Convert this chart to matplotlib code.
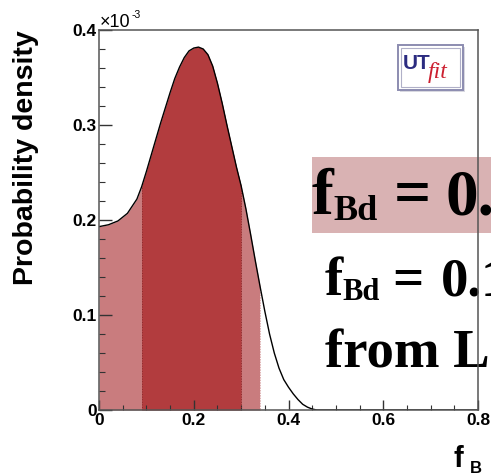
import matplotlib

matplotlib.use("Agg")
import matplotlib.pyplot as plt
import numpy as np
from matplotlib.patches import Rectangle
from matplotlib.ticker import FuncFormatter, MultipleLocator

# posterior of f_B (density in units of 1e-3)
f_b = [0.00, 0.02, 0.04, 0.06, 0.08, 0.09, 0.10, 0.11, 0.12, 0.13, 0.14, 0.15,
       0.16, 0.17, 0.18, 0.19, 0.20, 0.21, 0.22, 0.23, 0.24, 0.25, 0.26, 0.27,
       0.28, 0.29, 0.30, 0.31, 0.32, 0.33, 0.34, 0.35, 0.36, 0.37, 0.38, 0.39,
       0.40, 0.41, 0.42, 0.43, 0.44, 0.45, 0.46, 0.80]
density = [0.193, 0.195, 0.199, 0.207, 0.222, 0.235, 0.251, 0.268, 0.285, 0.302,
           0.318, 0.334, 0.349, 0.361, 0.371, 0.378, 0.381, 0.382, 0.380, 0.374,
           0.362, 0.344, 0.323, 0.300, 0.278, 0.256, 0.236, 0.212, 0.185, 0.157,
           0.130, 0.104, 0.080, 0.060, 0.044, 0.032, 0.024, 0.017, 0.011, 0.006,
           0.003, 0.001, 0.0, 0.0]
ci68 = (0.09, 0.30)
ci95 = (0.0, 0.34)

W, H = 491, 473


def px(x, y):
    return x / W, 1 - y / H


plt.rcParams.update({"font.family": "Liberation Sans"})

fig = plt.figure(figsize=(W / 100, H / 100), dpi=100)
ax = fig.add_axes([99 / W, 1 - 410 / H, (478 - 99) / W, 380 / H])
ax.patch.set_visible(False)

x = np.array(f_b)
y = np.array(density)
light, dark = "#c97c7e", "#b23c3e"
ax.fill_between(x, y, where=(x >= ci95[0]) & (x <= ci95[1]), color=light, lw=0)
ax.fill_between(x, y, where=(x >= ci68[0]) & (x <= ci68[1]), color=dark, lw=0)
for edge, col in [(ci68[0], "#8a2a2c"), (ci68[1], "#8a2a2c"), (ci95[1], "white")]:
    ax.plot([edge, edge], [0, np.interp(edge, x, y)], color=col, lw=0.7, ls=":")
ax.plot(x, y, color="black", lw=1.0)

ax.set_xlim(0, 0.8)
ax.set_ylim(0, 0.4)
ax.xaxis.set_major_locator(MultipleLocator(0.2))
ax.xaxis.set_minor_locator(MultipleLocator(0.05))
ax.yaxis.set_major_locator(MultipleLocator(0.1))
ax.yaxis.set_minor_locator(MultipleLocator(0.02))
fmt = FuncFormatter(lambda v, _: "0" if abs(v) < 1e-9 else f"{v:.1f}")
ax.xaxis.set_major_formatter(fmt)
ax.yaxis.set_major_formatter(fmt)
ax.tick_params(which="both", direction="in", top=False, right=False, color="#333333")
ax.tick_params(axis="x", which="major", length=7.2, width=1, pad=2)
ax.tick_params(axis="x", which="minor", length=3.6, width=0.8)
ax.tick_params(axis="y", which="major", length=9.4, width=1, pad=1.5)
ax.tick_params(axis="y", which="minor", length=4.3, width=0.8)
for lab in ax.get_xticklabels() + ax.get_yticklabels():
    lab.set_fontsize(12.5)
    lab.set_fontweight("bold")
for sp in ax.spines.values():
    sp.set_color("#555555")
    sp.set_linewidth(1.1)

# axis titles and exponent
fig.text(*px(26, 30), "Probability density", rotation=90, ha="center", va="top",
         fontsize=20.5, fontweight="bold")
fig.text(*px(453, 467), "f", ha="left", va="baseline", fontsize=21, fontweight="bold")
fig.text(*px(470, 473), "B", ha="left", va="baseline", fontsize=12, fontweight="bold")
fig.text(*px(100, 27), "\u00d710", ha="left", va="baseline", fontsize=13)
fig.text(*px(132, 18), "-3", ha="left", va="baseline", fontsize=7.5)

# UTfit logo
fig.patches.append(Rectangle(px(400, 92), 65 / W, 45 / H, transform=fig.transFigure,
                             facecolor="#d8d8e0", edgecolor="none", zorder=3))
fig.patches.append(Rectangle(px(398, 90), 65 / W, 45 / H, transform=fig.transFigure,
                             facecolor="white", edgecolor="#8c8cb0", lw=1.4, zorder=3))
fig.patches.append(Rectangle(px(401, 87), 59 / W, 39 / H, transform=fig.transFigure,
                             facecolor="none", edgecolor="#b0b0c8", lw=0.8, zorder=3))
fig.text(*px(403, 69), "UT", ha="left", va="baseline", fontsize=15, fontweight="bold",
         color="#2b2b80", zorder=4)
fig.text(*px(428, 78), "fit", ha="left", va="baseline", fontsize=17, style="italic",
         family="Liberation Serif", color="#cc2030", zorder=4)

# result text, drawn beneath the frame
serif = dict(family="Liberation Serif", fontweight="bold", color="black",
             ha="left", va="baseline", zorder=-1)
fig.patches.append(Rectangle(px(312, 233), (W - 312 + 5) / W, 76 / H,
                             transform=fig.transFigure, facecolor="#d9b2b3",
                             edgecolor="none", zorder=-2))
fig.text(*px(312, 214), "f", fontsize=47, **serif)
fig.text(*px(333, 220), "Bd", fontsize=26, **serif)
fig.text(*px(394, 214), "=", fontsize=47, **serif)
fig.text(*px(446, 214), "0.1", fontsize=47, **serif)

fig.text(*px(325, 295), "f", fontsize=39.4, **serif)
fig.text(*px(342, 300), "Bd", fontsize=22, **serif)
fig.text(*px(392, 295), "=", fontsize=39.4, **serif)
fig.text(*px(441, 295), "0.1", fontsize=39.4, **serif)
fig.text(*px(325, 367), "from L", fontsize=39.4, **serif)

fig.savefig("out.png", dpi=100)
